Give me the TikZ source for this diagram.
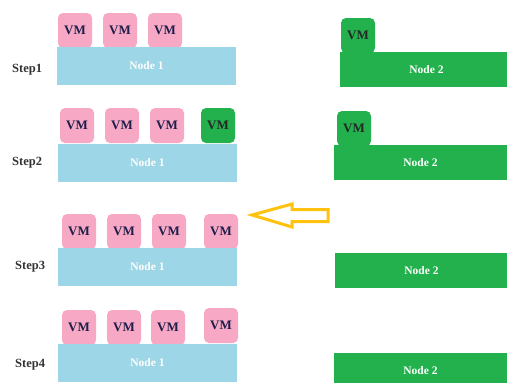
\documentclass[tikz,border=0pt]{standalone}
\usepackage{fontspec}
\setmainfont{Liberation Serif}
\definecolor{vmpink}{HTML}{F7A8C4}
\definecolor{hostblue}{HTML}{9DD6E6}
\definecolor{hostgreen}{HTML}{22B14C}
\definecolor{vmtext}{HTML}{1E1E4A}
\definecolor{arroworange}{HTML}{FFC20E}
\tikzset{
  box/.style={anchor=north west, inner sep=0pt, outer sep=0pt},
  vm/.style={box, fill=vmpink, rounded corners=5pt, minimum width=34pt, minimum height=35pt,
    font=\bfseries\fontsize{13}{13}\selectfont, text=vmtext},
  vmgreen/.style={vm, fill=hostgreen, text=black!85},
  hostone/.style={box, fill=hostblue, minimum width=179pt, minimum height=38pt,
    font=\bfseries\fontsize{11.5}{11.5}\selectfont, text=white},
  hosttwo/.style={box, fill=hostgreen, minimum width=173pt, minimum height=35pt,
    font=\bfseries\fontsize{11.5}{11.5}\selectfont, text=white},
  steplabel/.style={anchor=west, inner sep=0pt, font=\bfseries\fontsize{12.5}{12.5}\selectfont, text=black!80},
}
\begin{document}
\begin{tikzpicture}[x=1pt, y=-1pt]
\useasboundingbox (0,0) rectangle (507,383);

% Step 1
\node[steplabel] (s1) at (12,70) {Step1};
\node[vm] (s1a) at (58,13) {VM};
\node[vm] (s1b) at (103,13) {VM};
\node[vm] (s1c) at (148,13) {VM};
\node[hostone] (s1n1) at (57,47) {Node 1};
\node[vmgreen] (s1g) at (341,18) {VM};
\node[hosttwo] (s1n2) at (340,52) {Node 2};

% Step 2
\node[steplabel] (s2) at (12,163) {Step2};
\node[vm] (s2a) at (60,108) {VM};
\node[vm] (s2b) at (105,108) {VM};
\node[vm] (s2c) at (150,108) {VM};
\node[vmgreen] (s2d) at (201,108) {VM};
\node[hostone] (s2n1) at (58,144) {Node 1};
\node[vmgreen] (s2g) at (337,111) {VM};
\node[hosttwo] (s2n2) at (334,145) {Node 2};

% Step 3
\node[steplabel] (s3) at (15,267) {Step3};
\node[vm] (s3a) at (62,214) {VM};
\node[vm] (s3b) at (107,214) {VM};
\node[vm] (s3c) at (152,214) {VM};
\node[vm] (s3d) at (204,214) {VM};
\node[hostone] (s3n1) at (58,248) {Node 1};
\node[hosttwo] (s3n2) at (335,253) {Node 2};

% Step 4
\node[steplabel] (s4) at (15,365) {Step4};
\node[vm] (s4a) at (62,310) {VM};
\node[vm] (s4b) at (107,310) {VM};
\node[vm] (s4c) at (151,310) {VM};
\node[vm] (s4d) at (204,308) {VM};
\node[hostone] (s4n1) at (58,344) {Node 1};
\node[hosttwo] (s4n2) at (334,353) {Node 2};

% migration arrow, outlined
\draw[arroworange, line width=3pt, fill=white, line join=miter]
  (252,215) -- (292,204) -- (292,209.5) -- (328,209.5) -- (328,221.5)
  -- (292,221.5) -- (292,227) -- cycle;
\end{tikzpicture}
\end{document}
